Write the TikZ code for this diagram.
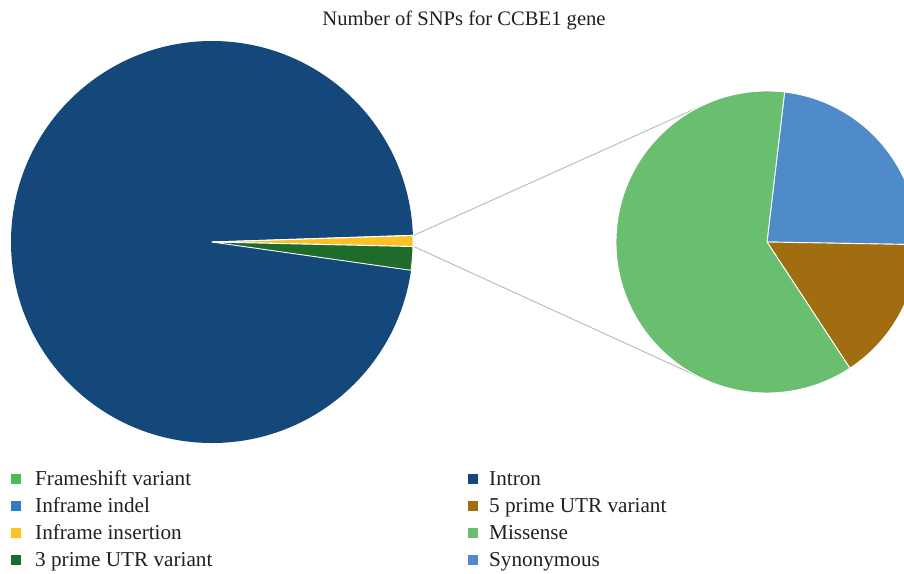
\documentclass[tikz,border=0pt]{standalone}
\usepackage{fontspec}
\setmainfont{Liberation Serif}
\usetikzlibrary{calc}
\definecolor{intron}{HTML}{14477A}
\definecolor{insertion}{HTML}{FDC126}
\definecolor{utrthree}{HTML}{1F6B2C}
\definecolor{missense}{HTML}{69BF6F}
\definecolor{synon}{HTML}{4F8AC9}
\definecolor{utrfive}{HTML}{A06D10}
\definecolor{frameshift}{HTML}{4DBB5B}
\definecolor{indel}{HTML}{2E7DC6}
\definecolor{txt}{HTML}{231F20}
\definecolor{conn}{HTML}{BDBDBD}
\tikzset{
  wedge/.style={draw=white, line width=0.9pt, line join=round},
  legsq/.style={minimum size=10pt, inner sep=0pt, draw=none},
  legtxt/.style={anchor=base west, inner sep=0pt, font=\fontsize{21.2}{23}\selectfont, text=txt},
  connector/.style={draw=conn, line width=1pt}
}
\begin{document}
\begin{tikzpicture}[x=1pt,y=-1pt]
\useasboundingbox (0,0) rectangle (904,573);
\clip (0,0) rectangle (904,573);
\coordinate (lc) at (212,242);
\coordinate (rc) at (767,242);
% title
\node[anchor=base, inner sep=0pt, font=\fontsize{20.6}{23}\selectfont, text=txt] (title) at (464,25) {Number of SNPs for CCBE1 gene};
% left pie
\fill[intron] (lc) circle[radius=201];
\filldraw[wedge, fill=insertion] (lc) -- ++(1.3:201) arc[start angle=1.3, end angle=-1.9, radius=201] -- cycle;
\filldraw[wedge, fill=utrthree] (lc) -- ++(8.1:201) arc[start angle=8.1, end angle=1.3, radius=201] -- cycle;
\draw[white, line width=0.9pt] (lc) -- ++(-1.9:201);
% connectors
\coordinate (la) at ($(lc)+(-1.9:202)$);
\coordinate (lb) at ($(lc)+(1.3:202)$);
\coordinate (ra) at ($(rc)+(-116:151)$);
\coordinate (rb) at ($(rc)+(116:151)$);
\draw[connector] (la) -- (ra);
\draw[connector] (lb) -- (rb);
% right pie
\filldraw[wedge, fill=synon] (rc) -- ++(1:151) arc[start angle=1, end angle=-83.3, radius=151] -- cycle;
\filldraw[wedge, fill=utrfive] (rc) -- ++(56.7:151) arc[start angle=56.7, end angle=1, radius=151] -- cycle;
\filldraw[wedge, fill=missense] (rc) -- ++(-83.3:151) arc[start angle=-83.3, end angle=-303.3, radius=151] -- cycle;
% legend
\node[legsq, fill=frameshift] (s1) at (16,479) {};
\node[legsq, fill=indel] (s2) at (16,506) {};
\node[legsq, fill=insertion] (s3) at (16,533) {};
\node[legsq, fill=utrthree] (s4) at (16,560) {};
\node[legsq, fill=intron] (s5) at (473,479) {};
\node[legsq, fill=utrfive] (s6) at (473,506) {};
\node[legsq, fill=missense] (s7) at (473,533) {};
\node[legsq, fill=synon] (s8) at (473,560) {};
\node[legtxt] (t1) at (35,485) {Frameshift variant};
\node[legtxt] (t2) at (35,512) {Inframe indel};
\node[legtxt] (t3) at (35,539) {Inframe insertion};
\node[legtxt] (t4) at (35,566) {3 prime UTR variant};
\node[legtxt] (t5) at (489,485) {Intron};
\node[legtxt] (t6) at (489,512) {5 prime UTR variant};
\node[legtxt] (t7) at (489,539) {Missense};
\node[legtxt] (t8) at (489,566) {Synonymous};
\end{tikzpicture}
\end{document}
